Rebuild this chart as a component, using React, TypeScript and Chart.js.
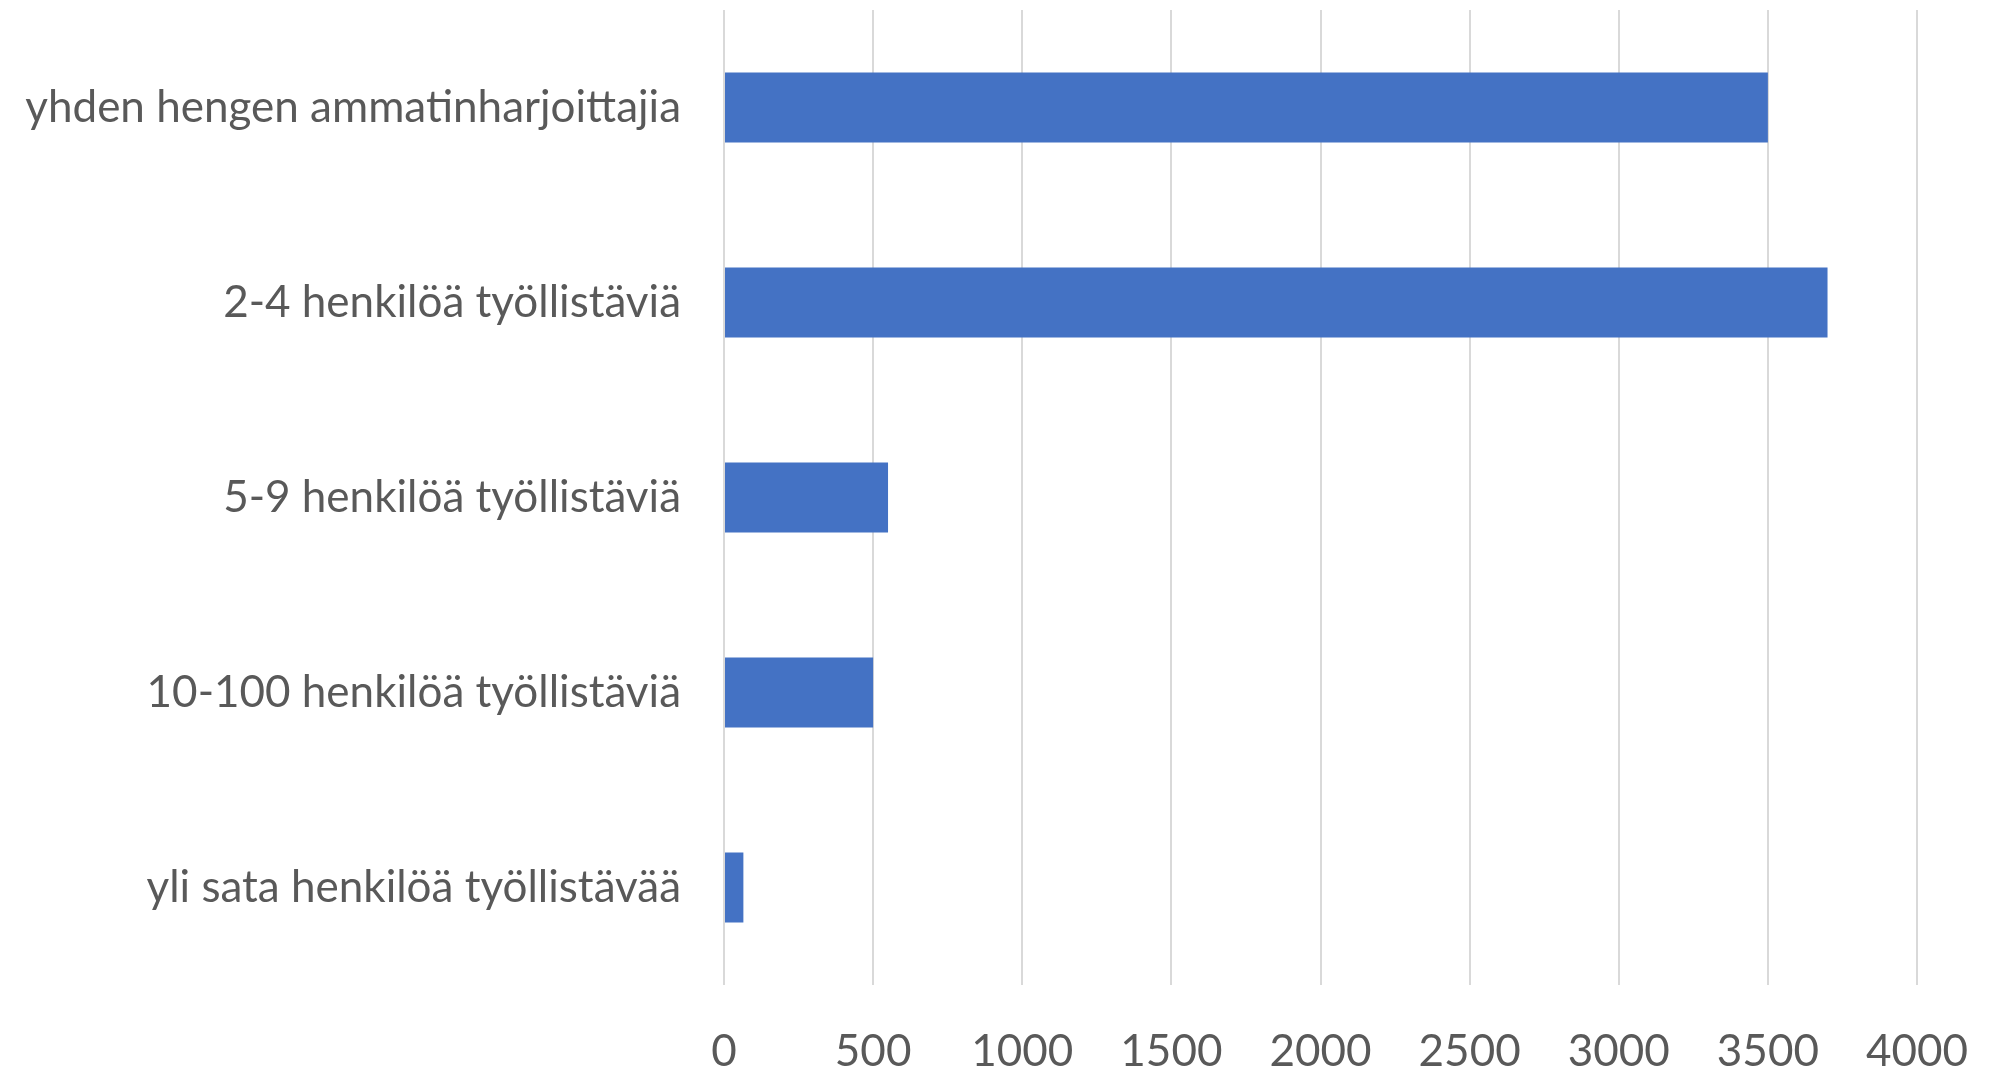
import React, { useEffect, useRef } from "react";
import { Chart, registerables } from "chart.js";

Chart.register(...registerables);

const categories = [
  "yhden hengen ammatinharjoittajia",
  "2-4 henkilöä työllistäviä",
  "5-9 henkilöä työllistäviä",
  "10-100 henkilöä työllistäviä",
  "yli sata henkilöä työllistävää",
];
const values = [3500, 3700, 550, 500, 65];
const xMin = 0;
const xMax = 4000;
const xStep = 500;

const W = 1991;
const H = 1072;

export default function App() {
  const ref = useRef<HTMLCanvasElement | null>(null);
  useEffect(() => {
    document.body.style.margin = "0";
    const ctx = ref.current!.getContext("2d")!;
    const font = { family: "Lato", size: 44 };
    const chart = new Chart(ctx, {
      type: "bar",
      data: {
        labels: categories,
        datasets: [
          {
            data: values,
            backgroundColor: "#4472C4",
            borderWidth: 0,
            barPercentage: 0.359,
            categoryPercentage: 1,
          },
        ],
      },
      options: {
        indexAxis: "y",
        responsive: false,
        animation: false,
        maintainAspectRatio: false,
        layout: { padding: { left: 0, right: 74, top: 10, bottom: 0 } },
        plugins: { legend: { display: false }, tooltip: { enabled: false } },
        scales: {
          x: {
            min: xMin,
            max: xMax,
            ticks: {
              stepSize: xStep,
              color: "#595959",
              font,
              padding: 40,
              callback: (v: any) => String(v),
            },
            grid: { color: "#D9D9D9", lineWidth: 2, drawTicks: false },
            border: { display: false },
            afterFit: (s: any) => {
              s.height = 87;
              s.paddingLeft = 0;
              s.paddingRight = 0;
            },
          },
          y: {
            ticks: { color: "#595959", font, padding: 43 },
            grid: { display: false, drawTicks: false },
            border: { display: false },
            afterFit: (s: any) => {
              s.width = 724;
              s.paddingTop = 0;
              s.paddingBottom = 0;
            },
          },
        },
      },
    });
    return () => chart.destroy();
  }, []);
  return (
    <div style={{ position: "fixed", left: 0, top: 0, width: W, height: H, background: "#fff" }}>
      <canvas ref={ref} width={W} height={H} style={{ width: W, height: H }} />
    </div>
  );
}
